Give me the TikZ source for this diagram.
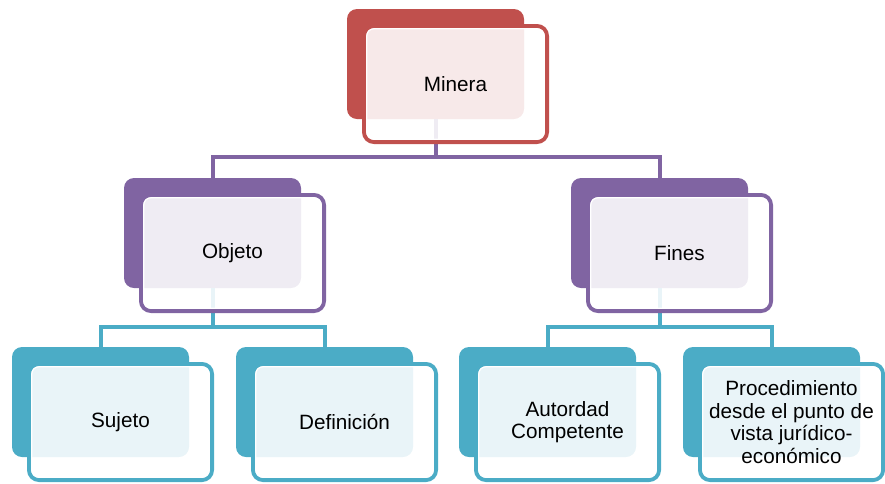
\documentclass[tikz,border=0pt]{standalone}
\usepackage{fontspec}
\setmainfont{Liberation Sans}
\definecolor{cred}{HTML}{C0504D}
\definecolor{cpur}{HTML}{8064A2}
\definecolor{ctea}{HTML}{4BACC6}
\begin{document}
\begin{tikzpicture}[x=1pt,y=-1pt,
 back/.style={rectangle,rounded corners=10pt,fill=#1,minimum width=177pt,minimum height=110pt,inner sep=0pt,outer sep=0pt,anchor=north west},
 front/.style={rectangle,rounded corners=10pt,draw=#1,line width=4pt,fill=white,fill opacity=0.88,text opacity=1,minimum width=183pt,minimum height=116pt,inner sep=0pt,outer sep=0pt,anchor=north west,align=center,font=\fontsize{20.7}{22.4}\selectfont},
 ring/.style={draw=white,line width=1.2pt,rounded corners=7pt},
 conn/.style={draw=#1,line width=4pt}]
\useasboundingbox (0,0) rectangle (885,483);
% back rectangles
\node[back=cred] (mD) at (347,9) {};
\node[back=cpur] (oD) at (124,178) {};
\node[back=cpur] (fD) at (571,178) {};
\node[back=ctea] (sD) at (12,347) {};
\node[back=ctea] (dD) at (236,347) {};
\node[back=ctea] (aD) at (459,347) {};
\node[back=ctea] (pD) at (683,347) {};
% connectors
\draw[conn=cpur] (mD.south) -- ++(0,38) coordinate (h1) -| (oD.north);
\draw[conn=cpur] (h1) -| (fD.north);
\draw[conn=ctea] (oD.south) -- ++(0,39) coordinate (h2) -| (sD.north);
\draw[conn=ctea] (h2) -| (dD.north);
\draw[conn=ctea] (fD.south) -- ++(0,39) coordinate (h3) -| (aD.north);
\draw[conn=ctea] (h3) -| (pD.north);
% front rectangles
\node[front=cred] (mF) at (364,26) {Minera};
\node[front=cpur] (oF) at (141,195) {Objeto};
\node[front=cpur] (fF) at (588,195) {Fines};
\node[front=ctea] (sF) at (29,364) {Sujeto};
\node[front=ctea] (dF) at (253,364) {Definición};
\node[front=ctea] (aF) at (476,364) {Autordad\\Competente};
\node[front=ctea] (pF) at (700,364) {Procedimiento\\desde el punto de\\vista jurídico-\\económico};
\foreach \n in {mF,oF,fF,sF,dF,aF,pF}{
  \draw[ring] ([shift={(2.8,2.8)}]\n.north west) rectangle ([shift={(-2.8,-2.8)}]\n.south east);
}
\end{tikzpicture}
\end{document}
